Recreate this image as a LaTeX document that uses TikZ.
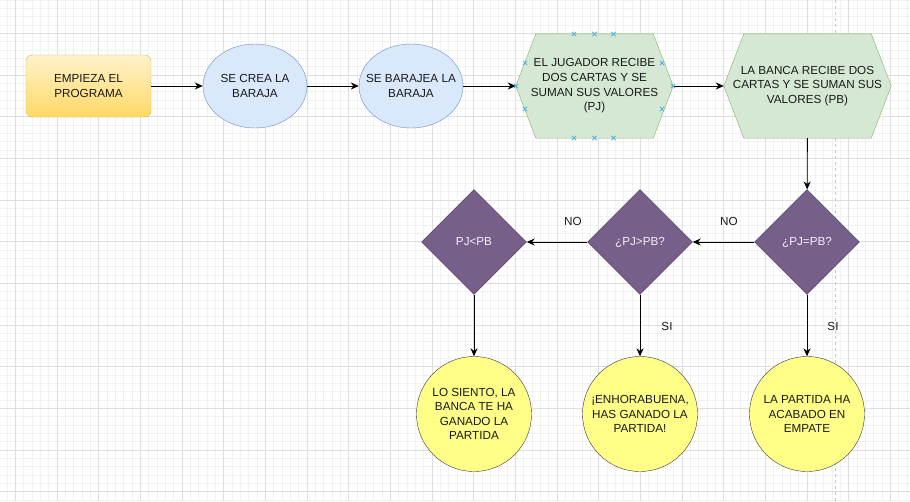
\documentclass[tikz,border=0pt]{standalone}
\usepackage{fontspec}
\setmainfont{Liberation Sans}
\usetikzlibrary{shapes.geometric,arrows.meta}
\definecolor{gminor}{HTML}{F1F1F1}
\definecolor{gmajor}{HTML}{DEDEDE}
\definecolor{startA}{HTML}{FFF2CC}
\definecolor{startB}{HTML}{FFD966}
\definecolor{startS}{HTML}{D6B656}
\definecolor{blueF}{HTML}{DAE8FC}
\definecolor{blueS}{HTML}{6C8EBF}
\definecolor{greenF}{HTML}{D5E8D4}
\definecolor{greenS}{HTML}{82B366}
\definecolor{purpF}{HTML}{76608A}
\definecolor{purpS}{HTML}{432D57}
\definecolor{yelF}{HTML}{FFFF88}
\definecolor{yelS}{HTML}{36393D}
\definecolor{xblue}{HTML}{4FB3E8}
\definecolor{txt}{HTML}{1A1A1A}
\definecolor{dectxt}{HTML}{F2EEF7}
\pgfdeclarelayer{grid}
\pgfdeclarelayer{bg}
\pgfsetlayers{grid,bg,main}
\begin{document}
\begin{tikzpicture}[x=1pt,y=-1pt,
  every node/.style={font=\fontsize{11.7}{14.6}\selectfont, text=txt, align=center},
  startbox/.style={rectangle, rounded corners=6pt, draw=startS, top color=startA, bottom color=startB, minimum width=125pt, minimum height=62pt, inner sep=0pt},
  ellbox/.style={ellipse, draw=blueS, fill=blueF, minimum width=104pt, minimum height=84pt, inner xsep=-12pt, inner ysep=0pt},
  hexbox/.style={rectangle, inner sep=0pt, minimum height=104pt},
  hexpath/.style={draw=greenS, fill=greenF},
  decbox/.style={diamond, aspect=1, draw=purpS, fill=purpF, minimum width=105pt, minimum height=105pt, inner sep=0pt, text=dectxt},
  endbox/.style={circle, draw=yelS, fill=yelF, minimum size=115pt, inner sep=0pt},
  lbl/.style={inner sep=1pt},
  arr/.style={draw=black, line width=0.9pt, -{Stealth[length=8pt,width=7pt]}},
  xmark/.style={draw=xblue, line width=0.8pt}
]
\useasboundingbox (0,0) rectangle (910,501);
\begin{pgfonlayer}{grid}
  \fill[white] (0,0) rectangle (910,501);
  \begin{scope}
    \clip (0,0) rectangle (910,501);
    \foreach \k in {0,...,108} \draw[gminor, line width=0.6pt] ({7.0+8.3333*\k},0) -- ++(0,501);
    \foreach \k in {0,...,60} \draw[gminor, line width=0.6pt] (0,{8.3333*\k}) -- ++(910,0);
    \foreach \k in {0,...,21} \draw[gmajor, line width=0.7pt] ({15.33+41.667*\k},0) -- ++(0,501);
    \foreach \k in {0,...,11} \draw[gmajor, line width=0.7pt] (0,{33.33+41.667*\k}) -- ++(910,0);
    \draw[gray!45, line width=0.7pt, dash pattern=on 3pt off 3pt] (835,0) -- (835,501);
  \end{scope}
\end{pgfonlayer}

% nodes
\node[startbox] (start) at (88.5,86) {EMPIEZA EL\\PROGRAMA};
\node[ellbox] (crea) at (255,86) {SE CREA LA\\BARAJA};
\node[ellbox] (barajea) at (411,86) {SE BARAJEA LA\\BARAJA};
\node[hexbox, minimum width=157pt] (h1) at (594.5,86) {EL JUGADOR RECIBE\\DOS CARTAS Y SE\\SUMAN SUS VALORES\\(PJ)};
\node[hexbox, minimum width=167pt] (h2) at (807.5,86) {LA BANCA RECIBE DOS\\CARTAS Y SE SUMAN SUS\\VALORES (PB)};
\begin{pgfonlayer}{bg}
  \foreach \h in {h1,h2}
    \draw[hexpath] ([xshift=20pt]\h.north west) -- ([xshift=-20pt]\h.north east) -- (\h.east)
      -- ([xshift=-20pt]\h.south east) -- ([xshift=20pt]\h.south west) -- (\h.west) -- cycle;
\end{pgfonlayer}

\node[decbox] (eq) at (807,242) {¿PJ=PB?};
\node[decbox] (gt) at (640,242) {¿PJ>PB?};
\node[decbox] (lt) at (474,242) {PJ<PB};

\node[endbox] (lose) at (474,414) {LO SIENTO, LA\\BANCA TE HA\\GANADO LA\\PARTIDA};
\node[endbox] (win) at (640,414) {¡ENHORABUENA,\\HAS GANADO LA\\PARTIDA!};
\node[endbox] (tie) at (807,414) {LA PARTIDA HA\\ACABADO EN\\EMPATE};

% connectors
\draw[arr] (start) -- (crea);
\draw[arr] (crea) -- (barajea);
\draw[arr] (barajea) -- (h1);
\draw[arr] (h1) -- (h2);
\draw[arr] (h2) -- (eq);
\draw[arr] (eq) -- (gt);
\draw[arr] (gt) -- (lt);
\draw[arr] (eq) -- (tie);
\draw[arr] (gt) -- (win);
\draw[arr] (lt) -- (lose);

% labels
\node[lbl] (no1) at (729,221) {NO};
\node[lbl] (no2) at (573,221) {NO};
\node[lbl] (si1) at (833,326) {SI};
\node[lbl] (si2) at (667,326) {SI};

% selection marks on first hexagon
\foreach \dx/\dy in {-20.5/-52,0/-52,19/-52,-20.5/52,0/52,19/52,-69.5/-23,-78.5/0,-69.5/23,67.5/-23,78.5/0,67.5/23}
  \draw[xmark] ([shift={(\dx,\dy)}]h1.center) ++(-2.2,-2.2) -- ++(4.4,4.4) ++(-4.4,0) -- ++(4.4,-4.4);
\end{tikzpicture}
\end{document}
